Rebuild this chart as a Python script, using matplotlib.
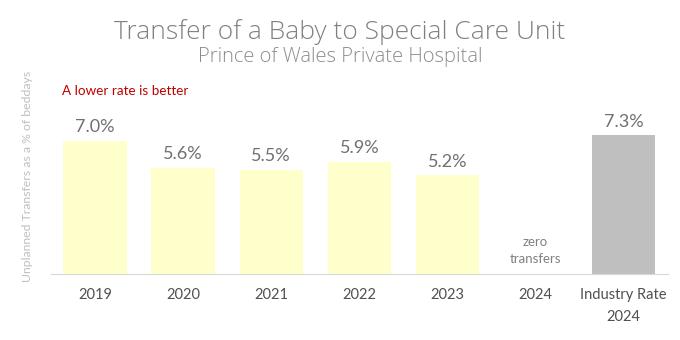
import matplotlib.pyplot as plt

categories = ['2019', '2020', '2021', '2022', '2023', '2024', 'Industry Rate\n2024']
rates = [7.0, 5.6, 5.5, 5.9, 5.2, 0.0, 7.3]
bar_colors = ['#ffffcc'] * 6 + ['#bfbfbf']

plt.rcParams['font.family'] = ['Lato', 'DejaVu Sans']

fig = plt.figure(figsize=(6.8, 3.4), dpi=100)
ax = fig.add_axes([0.075, 0.194, 0.907, 0.559])

x = range(len(categories))
ax.bar(x, rates, width=0.72, color=bar_colors)

for i, v in enumerate(rates):
    if v > 0:
        ax.text(i, v + 0.3, f'{v:.1f}%', ha='center', va='bottom',
                fontsize=13, color='#707070')
    else:
        ax.text(i, 0.45, 'zero\ntransfers', ha='center', va='bottom',
                fontsize=9.5, color='#808080', linespacing=1.55)

ax.set_xlim(-0.5, len(categories) - 0.5)
ax.set_ylim(0, 10)
ax.set_xticks(list(x))
ax.set_xticklabels(categories, fontsize=10.5, color='#505050', linespacing=1.7)
ax.tick_params(axis='x', length=0, pad=10)
ax.set_yticks([])
for s in ['top', 'right', 'left']:
    ax.spines[s].set_visible(False)
ax.spines['bottom'].set_color('#d9d9d9')

ax.set_ylabel('Unplanned Transfers as a % of beddays', fontsize=8.8, color='#bfbfbf')
ax.yaxis.set_label_coords(-0.029, 0.516)

title_font = ['Open Sans', 'DejaVu Sans']
fig.text(0.5, 0.905, 'Transfer of a Baby to Special Care Unit', ha='center', va='center',
         fontsize=19, color='#808080', family=title_font, fontweight=300)
fig.text(0.5, 0.833, 'Prince of Wales Private Hospital', ha='center', va='center',
         fontsize=14.5, color='#8c8c8c', family=title_font, fontweight=300)
fig.text(0.091, 0.733, 'A lower rate is better', ha='left', va='center',
         fontsize=9.7, color='#c00000')

fig.savefig('out.png', dpi=100)
